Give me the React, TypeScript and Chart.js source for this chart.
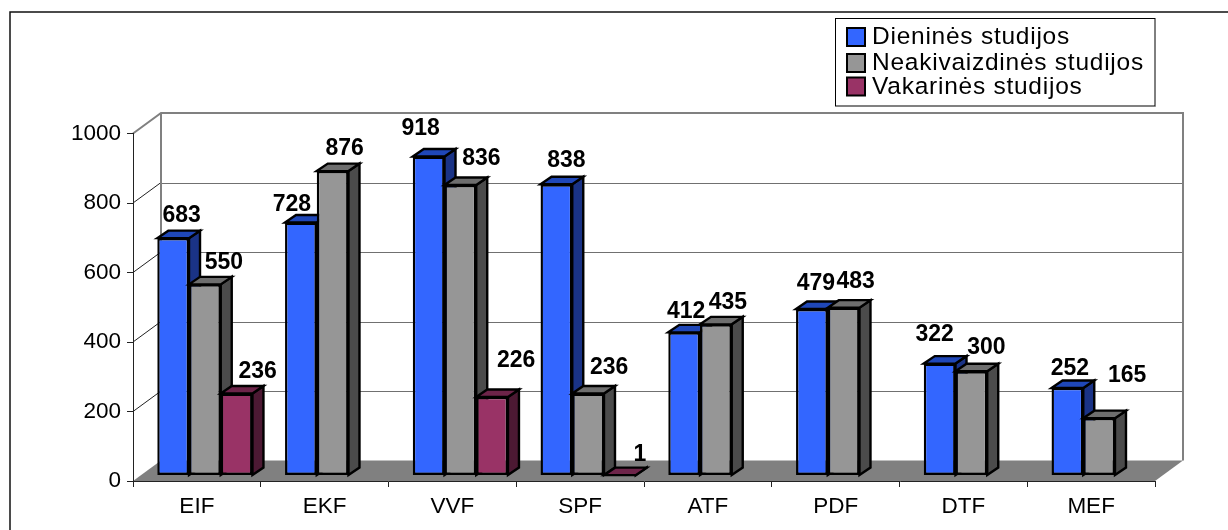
import React, { useEffect, useRef } from "react";
import { Chart, registerables } from "chart.js";

Chart.register(...registerables);

const categories = ["EIF", "EKF", "VVF", "SPF", "ATF", "PDF", "DTF", "MEF"];
const dieninesLabel = "Dieninės studijos";
const neakivaizdinesLabel = "Neakivaizdinės studijos";
const vakarinesLabel = "Vakarinės studijos";
const dienines = [683, 728, 918, 838, 412, 479, 322, 252];
const neakivaizdines = [550, 876, 836, 236, 435, 483, 300, 165];
const vakarines = [236, null, 226, 1, null, null, null, null];
const yTicks = [0, 200, 400, 600, 800, 1000];

// Hand-placed data label offsets, relative to the top centre of each bar's front face.
const nudges: [number, number][][] = [
  [[8.5, -23], [-9, -18], [-8, -28], [10, -24], [2, -21], [4, -25], [-5, -29], [2.5, -19.5]],
  [[19, -22], [12, -22.5], [21, -26.5], [21, -26], [12, -22], [12, -26], [15, -24], [28, -43]],
  [[21, -22], [0, 0], [24, -36.5], [20, -20], [0, 0], [0, 0], [0, 0], [0, 0]],
];

const FONT = '"Liberation Sans", Arial, sans-serif';
const WALL = { dx: 28, dy: 20.5 };
const BAR_SHIFT = { x: 8, y: -5.5 };
const BAR_DEPTH = { dx: 11, dy: 7.5 };
const faces = [
  { front: "#3366ff", top: "#1f47b8", side: "#1a3386" },
  { front: "#969696", top: "#6e6e6e", side: "#4b4b4b" },
  { front: "#993366", top: "#6d2449", side: "#4c1933" },
];

function poly(ctx: CanvasRenderingContext2D, pts: number[][]) {
  ctx.beginPath();
  pts.forEach((p, i) => (i ? ctx.lineTo(p[0], p[1]) : ctx.moveTo(p[0], p[1])));
  ctx.closePath();
}

const scene3d = {
  id: "scene3d",
  beforeDraw(chart: any) {
    const { ctx, chartArea: a, scales } = chart;
    const { dx, dy } = WALL;
    ctx.save();
    ctx.fillStyle = "#ffffff";
    ctx.fillRect(0, 0, chart.width, chart.height);
    // frame: top and left edges only
    ctx.strokeStyle = "#111111";
    ctx.lineWidth = 1.5;
    ctx.beginPath();
    ctx.moveTo(10, chart.height);
    ctx.lineTo(10, 12);
    ctx.lineTo(chart.width, 12);
    ctx.stroke();
    // floor
    ctx.fillStyle = "#808080";
    poly(ctx, [[a.left, a.bottom], [a.left + dx, a.bottom - dy], [a.right + dx, a.bottom - dy], [a.right, a.bottom]]);
    ctx.fill();
    // wall gridlines
    yTicks.forEach((v) => {
      const y = scales.y.getPixelForValue(v);
      if (v > 0 && v < 1000) {
        ctx.strokeStyle = "#707070";
        ctx.lineWidth = 1;
        ctx.beginPath();
        ctx.moveTo(a.left + dx, Math.round(y - dy) + 0.5);
        ctx.lineTo(a.right + dx, Math.round(y - dy) + 0.5);
        ctx.stroke();
        ctx.strokeStyle = "#222222";
        ctx.beginPath();
        ctx.moveTo(a.left, y);
        ctx.lineTo(a.left + dx, y - dy);
        ctx.stroke();
      }
    });
    // wall outline
    ctx.strokeStyle = "#808080";
    ctx.lineWidth = 2;
    ctx.beginPath();
    ctx.moveTo(a.left, a.top);
    ctx.lineTo(a.left + dx, a.top - dy);
    ctx.lineTo(a.right + dx, a.top - dy);
    ctx.lineTo(a.right + dx, a.bottom - dy);
    ctx.moveTo(a.left + dx, a.top - dy);
    ctx.lineTo(a.left + dx, a.bottom - dy);
    ctx.stroke();
    ctx.restore();
  },
  // Series overlap front to back, so they are painted first-to-last here.
  beforeDatasetsDraw(chart: any) {
    const { ctx } = chart;
    chart.data.datasets.forEach((ds: any, si: number) => {
      const meta = chart.getDatasetMeta(si);
      const c = faces[si];
      ctx.save();
      ctx.translate(BAR_SHIFT.x, BAR_SHIFT.y);
      ctx.lineWidth = 2.4;
      ctx.strokeStyle = "#000000";
      ctx.lineJoin = "miter";
      meta.data.forEach((bar: any, i: number) => {
        if (ds.data[i] == null) return;
        const { x, y, base, width } = bar.getProps(["x", "y", "base", "width"], true);
        const l = x - width / 2;
        const r = x + width / 2;
        const { dx, dy } = BAR_DEPTH;
        poly(ctx, [[r, y], [r + dx, y - dy], [r + dx, base - dy], [r, base]]);
        ctx.fillStyle = c.side;
        ctx.fill();
        ctx.stroke();
        poly(ctx, [[l, y], [l + dx, y - dy], [r + dx, y - dy], [r, y]]);
        ctx.fillStyle = c.top;
        ctx.fill();
        ctx.stroke();
      });
      meta.controller.draw();
      ctx.restore();
    });
    return false;
  },
  afterDraw(chart: any) {
    const { ctx } = chart;
    ctx.save();
    // data labels
    ctx.font = `bold 23px ${FONT}`;
    ctx.fillStyle = "#000000";
    ctx.textAlign = "center";
    ctx.textBaseline = "middle";
    chart.data.datasets.forEach((ds: any, si: number) => {
      chart.getDatasetMeta(si).data.forEach((bar: any, i: number) => {
        const v = ds.data[i];
        if (v == null) return;
        const [nx, ny] = nudges[si][i];
        ctx.fillText(String(v), bar.x + BAR_SHIFT.x + nx, bar.y + BAR_SHIFT.y + ny);
      });
    });
    // legend
    ctx.fillStyle = "#ffffff";
    ctx.fillRect(835.5, 18.5, 319.5, 87.5);
    ctx.strokeStyle = "#000000";
    ctx.lineWidth = 1;
    ctx.strokeRect(835.5, 18.5, 319.5, 87.5);
    ctx.strokeStyle = "#808080";
    ctx.lineWidth = 1;
    ctx.beginPath();
    ctx.moveTo(835.5, 106.5);
    ctx.lineTo(1155.5, 106.5);
    ctx.stroke();
    const swatchY = [28, 54, 77.5];
    const textY = [37.5, 63.5, 87.5];
    ctx.font = `24.5px ${FONT}`;
    (ctx as any).letterSpacing = "0.75px";
    ctx.textAlign = "left";
    chart.data.datasets.forEach((ds: any, si: number) => {
      ctx.fillStyle = faces[si].front;
      ctx.strokeStyle = "#000000";
      ctx.lineWidth = 2;
      ctx.fillRect(847, swatchY[si], 18, 18);
      ctx.strokeRect(847, swatchY[si], 18, 18);
      ctx.fillStyle = "#000000";
      ctx.fillText(ds.label, 872, textY[si]);
    });
    (ctx as any).letterSpacing = "0px";
    ctx.restore();
  },
};

export default function App() {
  const ref = useRef<HTMLCanvasElement>(null);
  useEffect(() => {
    const series = [dienines, neakivaizdines, vakarines];
    const labels = [dieninesLabel, neakivaizdinesLabel, vakarinesLabel];
    const chart = new Chart(ref.current as HTMLCanvasElement, {
      type: "bar",
      data: {
        labels: categories,
        datasets: series.map((data, i) => ({
          label: labels[i],
          data,
          backgroundColor: faces[i].front,
          borderColor: "#000000",
          borderWidth: 2.4,
          borderSkipped: false,
          categoryPercentage: 0.745,
          barPercentage: 1,
          clip: false,
        })),
      } as any,
      options: {
        responsive: false,
        animation: false,
        events: [],
        layout: { padding: { left: 0, right: 73, top: 133.5, bottom: 0 } },
        plugins: { legend: { display: false }, tooltip: { enabled: false }, title: { display: false } },
        scales: {
          x: {
            afterFit(s: any) { s.height = 49; },
            grid: { drawOnChartArea: false, tickLength: 6, tickColor: "#222222", offset: true },
            border: { color: "#222222", width: 1 },
            ticks: { color: "#000000", font: { family: FONT, size: 22.5 }, padding: 6, maxRotation: 0 },
          },
          y: {
            min: 0,
            max: 1000,
            afterFit(s: any) { s.width = 133; },
            afterBuildTicks(s: any) { s.ticks = yTicks.map((value) => ({ value })); },
            grid: { drawOnChartArea: false, tickLength: 6, tickColor: "#222222" },
            border: { color: "#222222", width: 1 },
            ticks: { color: "#000000", font: { family: FONT, size: 22.5 }, padding: 6, callback: (v: any) => String(v) },
          },
        },
      } as any,
      plugins: [scene3d],
    });
    return () => chart.destroy();
  }, []);
  return (
    <canvas
      ref={ref}
      width={1228}
      height={530}
      style={{ position: "fixed", left: 0, top: 0, display: "block", width: 1228, height: 530 }}
    />
  );
}
